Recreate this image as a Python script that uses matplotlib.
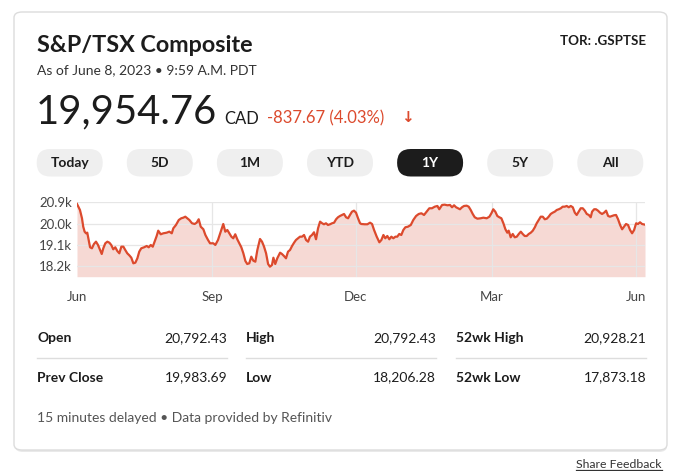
import matplotlib
matplotlib.use("Agg")
import matplotlib.pyplot as plt
from matplotlib.patches import FancyBboxPatch

plt.rcParams['font.family'] = ['Lato', 'DejaVu Sans']

# days since Jun 8, 2022 and index level
days = [0.0, 1.9, 3.2, 4.0, 4.9, 5.8, 6.6, 7.5, 8.4, 9.6, 10.9, 12.2, 13.5, 14.8, 15.9, 16.9, 18.2, 19.5,
        20.8, 22.0, 23.3, 24.6, 25.9, 27.2, 28.5, 29.8, 31.0, 32.3, 33.6, 34.9, 36.2, 37.5, 38.8, 40.0,
        41.3, 43.1, 44.8, 46.1, 47.4, 48.7, 49.9, 51.2, 52.2, 53.8, 55.5, 57.6, 59.3, 60.9, 61.9, 63.6,
        65.4, 67.0, 68.3, 69.6, 70.9, 72.2, 73.9, 75.6, 76.9, 78.2, 79.5, 81.2, 82.5, 84.2, 85.5,
        87.6, 88.9, 90.6, 92.4, 94.0, 95.3, 96.6, 97.9, 99.2, 100.4, 101.7, 103.0, 104.3, 105.6, 106.9,
        108.2, 109.4, 110.7, 112.0, 113.3, 114.6, 115.9, 117.6, 118.9, 120.2, 121.5, 122.8, 124.0, 125.3,
        126.2, 127.4, 128.7, 130.5, 131.7, 133.0, 134.3, 135.6, 136.9, 138.2, 139.5, 140.7, 142.0, 143.3,
        144.6, 145.9, 147.2, 148.5, 149.7, 151.0, 152.3, 153.6, 154.9, 156.2, 157.5, 158.7, 160.0, 161.3,
        162.6, 163.9, 165.2, 166.5, 167.7, 169.0, 170.3, 171.6, 172.9, 174.2, 175.4, 176.7, 178.0, 179.3,
        180.6, 181.9,
        182.7, 184.9, 186.6, 188.3, 189.6, 190.9, 192.6, 194.3, 195.6, 196.9, 198.1, 199.4, 200.7, 202.0,
        203.3, 204.6, 205.8, 207.1, 208.4, 209.7, 211.0, 212.7, 214.5, 216.1, 217.9, 219.6, 221.3, 223.0,
        224.7, 226.4, 228.1, 229.9, 231.6, 232.8, 234.6, 236.3, 238.0, 239.7, 241.0, 242.3, 243.6, 244.9,
        246.1, 247.4, 248.7, 250.4, 251.7, 253.0, 254.3, 255.6, 257.3, 259.4, 261.1, 263.3, 265.0, 266.3,
        267.5, 268.8, 270.1, 271.4,
        272.7, 274.0, 275.3, 276.5, 277.4, 278.7, 280.0, 281.3, 282.6, 283.9, 285.2, 286.4, 287.7, 289.0,
        290.3, 291.6, 292.9, 294.2, 295.4, 296.7, 298.0, 299.3, 300.6, 301.9, 303.1, 304.4, 305.7, 307.0,
        308.3, 309.6, 310.9, 312.1, 313.4, 314.7, 316.0, 317.3, 318.6, 319.9, 321.1, 322.4, 323.7, 325.0,
        326.3, 327.6, 328.9, 330.1, 331.0, 332.3, 333.5, 334.8, 336.1, 337.4, 338.7, 340.0, 341.3, 342.5,
        343.8, 345.1, 346.4, 347.7, 349.0, 350.3, 351.5, 352.8, 354.1, 355.4, 356.7, 358.0, 359.3, 360.5,
        361.8, 363.1, 365.0]
values = [20828, 20575, 20225, 19871, 19660, 19592, 19617, 19309, 19001, 18959, 19141, 19238, 19099, 18888,
          18719, 18959, 19170, 19238, 19196, 19099, 18917, 19001, 18845, 18748, 19027, 19027, 18888, 18748,
          18664, 18563, 18326, 18352, 18537, 18816, 18959, 19001, 19056, 19001, 19099, 19027, 19238, 19478,
          19702, 19550, 19592, 19617, 19660, 19592, 19803, 19942, 20153, 20225, 20250, 20292, 20225, 20153,
          20014, 19984, 20039, 20183, 19871, 19761, 19520, 19309, 19170,
          19170, 19099, 19309, 19660, 19984, 19660, 19731, 19592, 19449, 19381, 19550, 19339, 19170, 19001,
          18748, 18423, 18297, 18326, 18605, 18436, 18394, 18888, 19352, 19238, 19027, 18748, 18297, 18183,
          18255, 18563, 18297, 18537, 18774, 18719, 18634, 18537, 18816, 18888, 19056, 19196, 19309, 19381,
          19449, 19449, 19520, 19309, 19238, 19449, 19520, 19634, 19339, 19803, 20082, 20014, 19972, 20014,
          19942, 19972, 20014, 20039, 20183, 20267, 20322, 20364, 20406, 20267, 20225, 20364, 20503, 20546,
          20461, 20225, 20014,
          19984, 19972, 19972, 20039, 19984, 19731, 19449, 19212, 19309, 19520, 19381, 19478, 19339, 19449,
          19381, 19449, 19449, 19563, 19520, 19731, 19845, 19871, 19942, 20153, 20322, 20406, 20436, 20364,
          20503, 20647, 20647, 20714, 20744, 20605, 20786, 20799, 20773, 20786, 20689, 20773, 20689, 20647,
          20605, 20689, 20744, 20757, 20714, 20575, 20406, 20267, 20208, 20225, 20250, 20225, 20292, 20436,
          20605, 20503, 20322, 20267,
          20225, 20014, 19761, 19617, 19702, 19423, 19563, 19423, 19449, 19563, 19660, 19563, 19478, 19478,
          19563, 19617, 19702, 19845, 20014, 20153, 20292, 20292, 20183, 20208, 20292, 20406, 20461, 20503,
          20575, 20605, 20647, 20714, 20714, 20744, 20689, 20744, 20689, 20461, 20364, 20503, 20647, 20647,
          20546, 20406, 20364, 20267, 20503, 20605, 20605, 20546, 20461, 20406, 20461, 20546, 20322, 20292,
          20322, 20352, 20364, 20183, 19942, 19761, 19871, 19984, 19942, 19731, 19592, 19731, 20014, 19984,
          20056, 19984, 19955]

xtick_pos = [0, 87, 179, 266.5, 359.3]
xtick_labels = ["Jun", "Sep", "Dec", "Mar", "Jun"]
ytick_pos = [18200, 19100, 20000, 20900]
ytick_labels = ["18.2k", "19.1k", "20.0k", "20.9k"]

buttons = ["Today", "5D", "1M", "YTD", "1Y", "5Y", "All"]
selected = "1Y"

stat_labels = [["Open", "Prev Close"], ["High", "Low"], ["52wk High", "52wk Low"]]
stat_values = [["20,792.43", "19,983.69"], ["20,792.43", "18,206.28"], ["20,928.21", "17,873.18"]]

W, H = 685, 471
RED = "#dc4a2d"
DARK = "#1c1c1c"
GREY = "#555555"


def fx(x):
    return x / W


def fy(y):
    return 1 - y / H


fig = plt.figure(figsize=(W / 100, H / 100), dpi=100)
fig.patch.set_facecolor("white")

# card with a soft shadow
shadow = FancyBboxPatch((fx(15), fy(452)), fx(652), 438 / H, boxstyle="round,pad=0,rounding_size=0.012",
                        transform=fig.transFigure, facecolor="#e9e9e9", edgecolor="none", zorder=0)
card = FancyBboxPatch((fx(14), fy(450)), fx(653), 438 / H, boxstyle="round,pad=0,rounding_size=0.012",
                      transform=fig.transFigure, facecolor="white", edgecolor="#dcdcdc", lw=1, zorder=0.5)
fig.patches.extend([shadow, card])

# header
fig.text(fx(37), fy(52), "S&P/TSX Composite", fontsize=16.8, fontweight="bold", color=DARK, va="baseline")
fig.text(fx(646), fy(45), "TOR: .GSPTSE", fontsize=9.6, fontweight="bold", color=DARK, ha="right", va="baseline")
fig.text(fx(37), fy(74), "As of June 8, 2023 \u2022 9:59 A.M. PDT", fontsize=10, color="#333333", va="baseline")
fig.text(fx(36), fy(123.5), "19,954.76", fontsize=28.8, color=DARK, va="baseline")
fig.text(fx(224), fy(123.5), "CAD", fontsize=12, color=DARK, va="baseline")
fig.text(fx(267), fy(123.5), "-837.67 (4.03%)", fontsize=12, color=RED, va="baseline")
fig.text(fx(401), fy(122.5), "\u2193", fontsize=11, color=RED, va="baseline", fontweight="bold",
         family=["DejaVu Sans"])

# range buttons
for i, b in enumerate(buttons):
    cx = 69.7 + 90.1 * i
    sel = b == selected
    pill = FancyBboxPatch((fx(cx - 33), fy(176.5)), fx(66), 27.5 / H,
                          boxstyle="round,pad=0,rounding_size=0.0198", mutation_aspect=W / H,
                          transform=fig.transFigure, facecolor=DARK if sel else "#efefef",
                          edgecolor="none", zorder=1)
    fig.patches.append(pill)
    fig.text(fx(cx), fy(163), b, fontsize=10, fontweight="bold", color="white" if sel else DARK,
             ha="center", va="center", zorder=2)

# chart
ax = fig.add_axes([fx(77), fy(276.7), 568 / W, (276.7 - 201.8) / H])
ax.set_zorder(3)
ax.fill_between(days, values, 17761, color="#f6d9d4", lw=0, zorder=1)
ax.plot(days, values, color=RED, lw=1.6, zorder=3, solid_joinstyle="round")
ax.set_xlim(0, 365)
ax.set_ylim(17761, 20920)
ax.set_yticks(ytick_pos, ytick_labels)
ax.set_xticks(xtick_pos, xtick_labels)
ax.tick_params(axis="y", length=0, pad=3.5, labelsize=9.5, labelcolor="#444444")
ax.tick_params(axis="x", length=0, pad=10, labelsize=9.5, labelcolor="#444444")
ax.grid(True, color="#e6e6e6", lw=0.9, zorder=2)
ax.xaxis.get_gridlines()[0].set_visible(False)
for s in ax.spines.values():
    s.set_visible(False)
ax.set_facecolor("none")

# stats table
col_left = [37, 246, 456]
col_right = [227, 436, 646]
rows_y = [338.5, 377.5]
for c in range(3):
    for r in range(2):
        fig.text(fx(col_left[c]), fy(rows_y[r]), stat_labels[c][r], fontsize=10, fontweight="bold",
                 color=DARK, va="center")
        fig.text(fx(col_right[c]), fy(rows_y[r]), stat_values[c][r], fontsize=10, color=DARK,
                 ha="right", va="center")
    fig.add_artist(plt.Line2D([fx(col_left[c]), fx(col_right[c])], [fy(358.3), fy(358.3)],
                              color="#dddddd", lw=1, transform=fig.transFigure))

fig.text(fx(37), fy(418.5), "15 minutes delayed \u2022 Data provided by Refinitiv", fontsize=10,
         color=GREY, va="center")
fig.text(fx(662), fy(464), "Share Feedback", fontsize=8.8, color="#333333", ha="right", va="center")
fig.add_artist(plt.Line2D([fx(576), fx(662)], [fy(469.5), fy(469.5)], color="#333333", lw=0.9,
                          transform=fig.transFigure))

fig.savefig("out.png", dpi=100, facecolor="white")
